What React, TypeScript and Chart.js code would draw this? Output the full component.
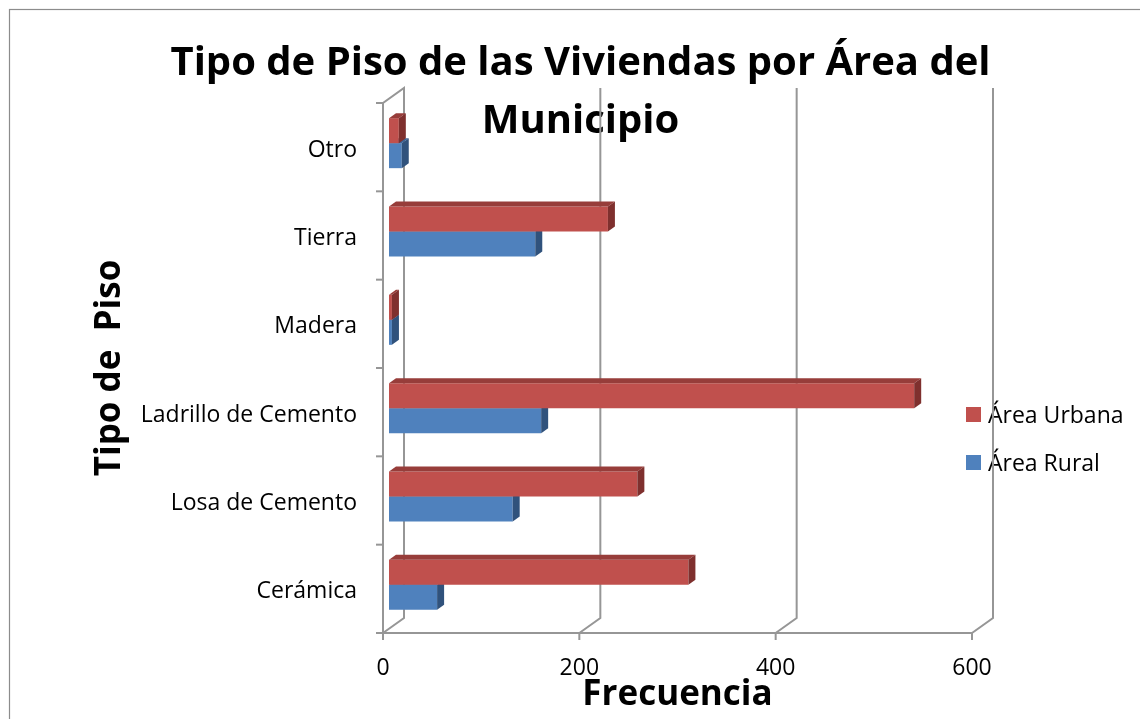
import React, { useEffect, useRef } from "react";
import { Chart, registerables } from "chart.js";

Chart.register(...registerables);

const categories = ["Otro", "Tierra", "Madera", "Ladrillo de Cemento", "Losa de Cemento", "Cerámica"];
const urbana = [10, 223, 3, 535, 253, 305];
const rural = [13, 149, 3, 155, 126, 49];
const seriesNames = ["Área Urbana", "Área Rural"];
const titleLines = ["Tipo de Piso de las Viviendas por Área del", "Municipio"];
const xTitle = "Frecuencia";
const yTitle = "Tipo de  Piso";

const FONT = "'Open Sans', Lato, sans-serif";
const W = 1132;
const H = 720;

const FRONT = { fill: ["#C0504D", "#4F81BD"], top: ["#973D3A", "#3E6698"], side: ["#7F302E", "#30527C"] };
const WALL_DX = 21, WALL_DY = -15;
const BAR_DX = 6, BAR_DY = -4;
const DEPTH_DX = 7, DEPTH_DY = -5;

const threeD = {
  id: "threeD",
  beforeDraw(chart: any) {
    const ctx = chart.ctx;
    ctx.save();
    ctx.fillStyle = "#ffffff";
    ctx.fillRect(0, 0, chart.width, chart.height);
    ctx.strokeStyle = "#8c8c8c";
    ctx.lineWidth = 1.2;
    ctx.strokeRect(1.5, 1.5, chart.width + 20, chart.height + 20);
    ctx.restore();
  },
  beforeDatasetsDraw(chart: any) {
    const ctx = chart.ctx;
    const { left, right, top, bottom } = chart.chartArea;
    const xs = chart.scales.x;
    ctx.save();
    // title
    ctx.fillStyle = "#000";
    ctx.font = `bold 40px ${FONT}`;
    ctx.textAlign = "center";
    ctx.textBaseline = "alphabetic";
    const cx = 572.5;
    ctx.fillText(titleLines[0], cx, 67);
    ctx.fillText(titleLines[1], cx, 125);
    // legend
    ctx.font = `23px ${FONT}`;
    ctx.textAlign = "left";
    ctx.textBaseline = "middle";
    chart.data.datasets.forEach((ds: any, i: number) => {
      const by = 399 + i * 48;
      ctx.fillStyle = ds.backgroundColor;
      ctx.fillRect(958, by, 15, 15);
      ctx.fillStyle = "#000";
      ctx.fillText(ds.label, 980, by + 9);
    });
    // grid / walls
    ctx.strokeStyle = "#969696";
    ctx.lineWidth = 2;
    ctx.lineJoin = "miter";
    xs.ticks.forEach((t: any) => {
      const px = xs.getPixelForValue(t.value);
      ctx.beginPath();
      ctx.moveTo(px, bottom);
      ctx.lineTo(px + WALL_DX, bottom + WALL_DY);
      ctx.lineTo(px + WALL_DX, top + WALL_DY);
      if (t.value === 0) {
        ctx.lineTo(px, top);
        ctx.lineTo(px, bottom);
      }
      ctx.stroke();
      ctx.beginPath();
      ctx.moveTo(px, bottom);
      ctx.lineTo(px, bottom + 7);
      ctx.stroke();
    });
    ctx.beginPath();
    ctx.moveTo(left, bottom);
    ctx.lineTo(right, bottom);
    ctx.stroke();
    const n = chart.data.labels.length;
    for (let i = 0; i <= n; i++) {
      const py = top + ((bottom - top) * i) / n;
      ctx.beginPath();
      ctx.moveTo(left - 7, py);
      ctx.lineTo(left, py);
      ctx.stroke();
    }
    ctx.restore();
  },
  beforeDatasetDraw(chart: any) {
    chart.ctx.save();
    chart.ctx.translate(BAR_DX, BAR_DY);
  },
  afterDatasetDraw(chart: any, args: any) {
    const ctx = chart.ctx;
    const i = args.index;
    args.meta.data.forEach((el: any) => {
      const { x, y, base, height } = el.getProps(["x", "y", "base", "height"], true);
      const t = y - height / 2;
      const b = y + height / 2;
      ctx.fillStyle = FRONT.top[i];
      ctx.beginPath();
      ctx.moveTo(base, t);
      ctx.lineTo(x, t);
      ctx.lineTo(x + DEPTH_DX, t + DEPTH_DY);
      ctx.lineTo(base + DEPTH_DX, t + DEPTH_DY);
      ctx.closePath();
      ctx.fill();
      ctx.fillStyle = FRONT.side[i];
      ctx.beginPath();
      ctx.moveTo(x, t);
      ctx.lineTo(x, b);
      ctx.lineTo(x + DEPTH_DX, b + DEPTH_DY);
      ctx.lineTo(x + DEPTH_DX, t + DEPTH_DY);
      ctx.closePath();
      ctx.fill();
    });
    ctx.restore();
  },
};

export default function App() {
  const ref = useRef<HTMLCanvasElement | null>(null);
  useEffect(() => {
    if (!ref.current) return;
    const chart = new Chart(ref.current, {
      type: "bar",
      data: {
        labels: categories,
        datasets: [
          { label: seriesNames[0], data: urbana, backgroundColor: FRONT.fill[0], borderWidth: 0, clip: false as any },
          { label: seriesNames[1], data: rural, backgroundColor: FRONT.fill[1], borderWidth: 0, clip: false as any },
        ],
      },
      options: {
        indexAxis: "y",
        responsive: false,
        animation: false,
        devicePixelRatio: 1,
        categoryPercentage: 0.566,
        barPercentage: 1,
        layout: { padding: { left: 0, right: W - 964, top: 95, bottom: 0 } },
        plugins: { legend: { display: false }, title: { display: false }, tooltip: { enabled: false } },
        scales: {
          x: {
            min: 0,
            max: 600,
            grid: { display: false, drawTicks: false },
            border: { display: false },
            ticks: { stepSize: 200, color: "#000", padding: 22, font: { family: FONT, size: 23 } },
            title: { display: true, text: xTitle, color: "#000", font: { family: FONT, size: 35, weight: "bold" }, padding: { top: 0, bottom: 12 } },
            afterFit: (s: any) => { s.height = H - 625; },
          },
          y: {
            grid: { display: false, drawTicks: false },
            border: { display: false },
            ticks: { color: "#000", padding: 26, labelOffset: 3, font: { family: FONT, size: 23 } },
            title: { display: true, text: yTitle, color: "#000", font: { family: FONT, size: 35, weight: "bold" }, padding: { top: 81, bottom: 0 } },
            afterFit: (s: any) => { s.width = 375; },
          },
        },
      },
      plugins: [threeD],
    } as any);
    return () => chart.destroy();
  }, []);
  return (
    <div style={{ position: "fixed", left: 8, top: 8, width: W, height: H }}>
      <canvas ref={ref} width={W} height={H} style={{ width: W, height: H, display: "block" }} />
    </div>
  );
}
